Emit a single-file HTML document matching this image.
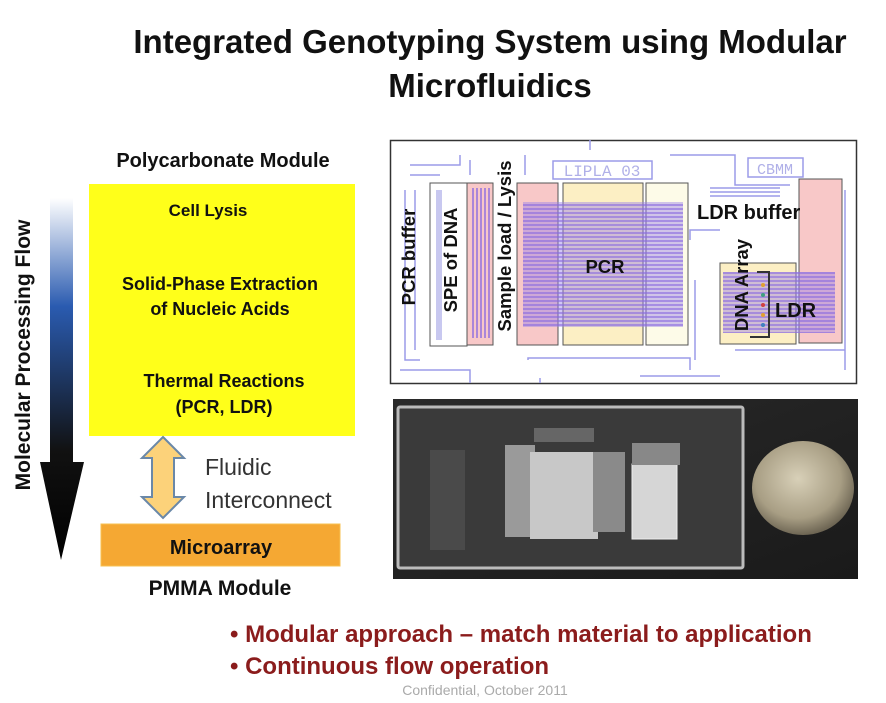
<!DOCTYPE html>
<html><head><meta charset="utf-8"><style>
body{margin:0;background:#fff;}
svg{display:block;font-family:"Liberation Sans",sans-serif;}
</style></head><body>
<svg width="886" height="703" viewBox="0 0 886 703" xmlns="http://www.w3.org/2000/svg">
<defs>
<linearGradient id="ag" x1="0" y1="0" x2="0" y2="1">
<stop offset="0" stop-color="#ffffff"/><stop offset="0.3" stop-color="#2a5bb0"/><stop offset="0.7" stop-color="#111"/><stop offset="1" stop-color="#000"/>
</linearGradient>
<linearGradient id="ph" x1="0" y1="0" x2="1" y2="1">
<stop offset="0" stop-color="#2a2a2a"/><stop offset="1" stop-color="#1a1a1a"/>
</linearGradient>
<radialGradient id="coin" cx="0.45" cy="0.4" r="0.6">
<stop offset="0" stop-color="#d8d0b8"/><stop offset="0.7" stop-color="#a89e84"/><stop offset="1" stop-color="#6e6654"/>
</radialGradient>
<pattern id="lines" width="4" height="4" patternUnits="userSpaceOnUse"><rect width="4" height="2" fill="#8a6ae0" opacity="0.6"/></pattern>
<pattern id="vlines" width="4" height="4" patternUnits="userSpaceOnUse"><rect width="2" height="4" fill="#8a6ae0" opacity="0.7"/></pattern>
</defs>

<text x="490" y="53" font-size="33" font-weight="bold" text-anchor="middle" fill="#111">Integrated Genotyping System using Modular</text>
<text x="490" y="97" font-size="33" font-weight="bold" text-anchor="middle" fill="#111">Microfluidics</text>

<text x="223" y="167" font-size="20" font-weight="bold" text-anchor="middle" fill="#111">Polycarbonate Module</text>
<rect x="89" y="184" width="266" height="252" fill="#ffff1a"/>
<text x="208" y="216" font-size="17" font-weight="bold" text-anchor="middle" fill="#111">Cell Lysis</text>
<text x="220" y="290" font-size="18" font-weight="bold" text-anchor="middle" fill="#111">Solid-Phase Extraction</text>
<text x="220" y="315" font-size="18" font-weight="bold" text-anchor="middle" fill="#111">of Nucleic Acids</text>
<text x="224" y="387" font-size="18" font-weight="bold" text-anchor="middle" fill="#111">Thermal Reactions</text>
<text x="224" y="413" font-size="18" font-weight="bold" text-anchor="middle" fill="#111">(PCR, LDR)</text>

<polygon points="50,198 73,198 73,462 84,462 61,560 40,462 50,462" fill="url(#ag)"/>
<text transform="translate(30,355) rotate(-90)" font-size="21" font-weight="bold" text-anchor="middle" fill="#111">Molecular Processing Flow</text>

<polygon points="163,437 184,458 174,458 174,497 184,497 163,518 142,497 152,497 152,458 142,458" fill="#fcd27a" stroke="#6a88a8" stroke-width="2"/>
<text x="205" y="475" font-size="23" fill="#333">Fluidic</text>
<text x="205" y="508" font-size="23" fill="#333">Interconnect</text>

<rect x="101" y="524" width="239" height="42" fill="#f5a833" stroke="#f7c050" stroke-width="1"/>
<text x="221" y="554" font-size="20" font-weight="bold" text-anchor="middle" fill="#111">Microarray</text>
<text x="220" y="595" font-size="21" font-weight="bold" text-anchor="middle" fill="#111">PMMA Module</text>

<rect x="390.5" y="140.5" width="466" height="243" fill="#fff" stroke="#333" stroke-width="1.5"/>
<g fill="none" stroke="#9b9be8" stroke-width="1.5">
<path d="M410 165 H460 V155 M410 175 H440 M405 190 V360 H420 M415 190 V350 M400 370 H470 V383 M470 160 V175 M525 155 V175 M528 360 V358 H690 V370 M640 376 H720 M670 155 H735 V185 H790 M690 240 V230 H720 M695 280 V360 M735 350 H845 M845 190 V370 M590 150 V140 M540 383 V378"/>
<rect x="553" y="161" width="99" height="18"/>
<rect x="748" y="158" width="55" height="19"/>
<path d="M710 188 H780 M710 192 H780 M710 196 H780"/>
</g>
<text x="602" y="176" font-size="16" fill="#b0b0e8" text-anchor="middle" font-family="Liberation Mono">LIPLA 03</text>
<text x="775" y="174" font-size="15" fill="#b0b0e8" text-anchor="middle" font-family="Liberation Mono">CBMM</text>
<rect x="430" y="183" width="37" height="163" fill="#fff" stroke="#555"/>
<rect x="436" y="190" width="6" height="150" fill="#c8c8f0"/>
<rect x="467" y="183" width="26" height="162" fill="#f8c8c8" stroke="#555"/>
<rect x="470" y="188" width="20" height="150" fill="url(#vlines)"/>
<rect x="517" y="183" width="41" height="162" fill="#f8c8c8" stroke="#555"/>
<rect x="563" y="183" width="80" height="162" fill="#fcefc4" stroke="#555"/>
<rect x="646" y="183" width="42" height="162" fill="#fdfbe8" stroke="#555"/>
<rect x="523" y="202" width="160" height="125" fill="#9a80e8" opacity="0.45"/>
<rect x="523" y="202" width="160" height="125" fill="url(#lines)"/>
<rect x="799" y="179" width="43" height="164" fill="#f8c8c8" stroke="#555"/>
<rect x="720" y="263" width="76" height="81" fill="#fcefc4" stroke="#555"/>
<rect x="723" y="272" width="112" height="61" fill="#9a80e8" opacity="0.45"/>
<rect x="723" y="272" width="112" height="61" fill="url(#lines)"/>
<path d="M757 272 H769 V337 H750" fill="none" stroke="#333" stroke-width="2"/>
<g fill="#e0a030"><circle cx="763" cy="285" r="2"/><circle cx="763" cy="295" r="2" fill="#40a080"/><circle cx="763" cy="305" r="2" fill="#d04040"/><circle cx="763" cy="315" r="2"/><circle cx="763" cy="325" r="2" fill="#4080c0"/></g>
<g font-size="18.5" font-weight="bold" fill="#111">
<text transform="translate(415,257) rotate(-90)" text-anchor="middle">PCR buffer</text>
<text transform="translate(457,260) rotate(-90)" text-anchor="middle">SPE of DNA</text>
<text transform="translate(511,246) rotate(-90)" text-anchor="middle">Sample load / Lysis</text>
<text transform="translate(748,285) rotate(-90)" text-anchor="middle">DNA Array</text>
<text x="605" y="273" text-anchor="middle">PCR</text>
<text x="697" y="219" font-size="20">LDR buffer</text>
<text x="775" y="317" font-size="20">LDR</text>
</g>

<rect x="393" y="399" width="465" height="180" fill="url(#ph)"/>
<rect x="398" y="407" width="345" height="161" fill="#3a3a3a" stroke="#bbb" stroke-width="3" rx="2"/>
<rect x="430" y="450" width="35" height="100" fill="#4a4a4a"/>
<rect x="505" y="445" width="30" height="92" fill="#9a9a9a"/>
<rect x="530" y="452" width="68" height="87" fill="#c8c8c8"/>
<rect x="593" y="452" width="32" height="80" fill="#8a8a8a"/>
<rect x="534" y="428" width="60" height="14" fill="#666"/>
<rect x="632" y="464" width="45" height="75" fill="#d6d6d6" stroke="#eee"/>
<rect x="632" y="443" width="48" height="22" fill="#888"/>
<ellipse cx="803" cy="488" rx="51" ry="47" fill="url(#coin)"/>

<g font-size="24" font-weight="bold" fill="#8b1c1c">
<text x="230" y="642">• Modular approach – match material to application</text>
<text x="230" y="674">• Continuous flow operation</text>
</g>
<text x="485" y="695" font-size="14" fill="#aaa" text-anchor="middle">Confidential, October 2011</text>
</svg>
</body></html>
